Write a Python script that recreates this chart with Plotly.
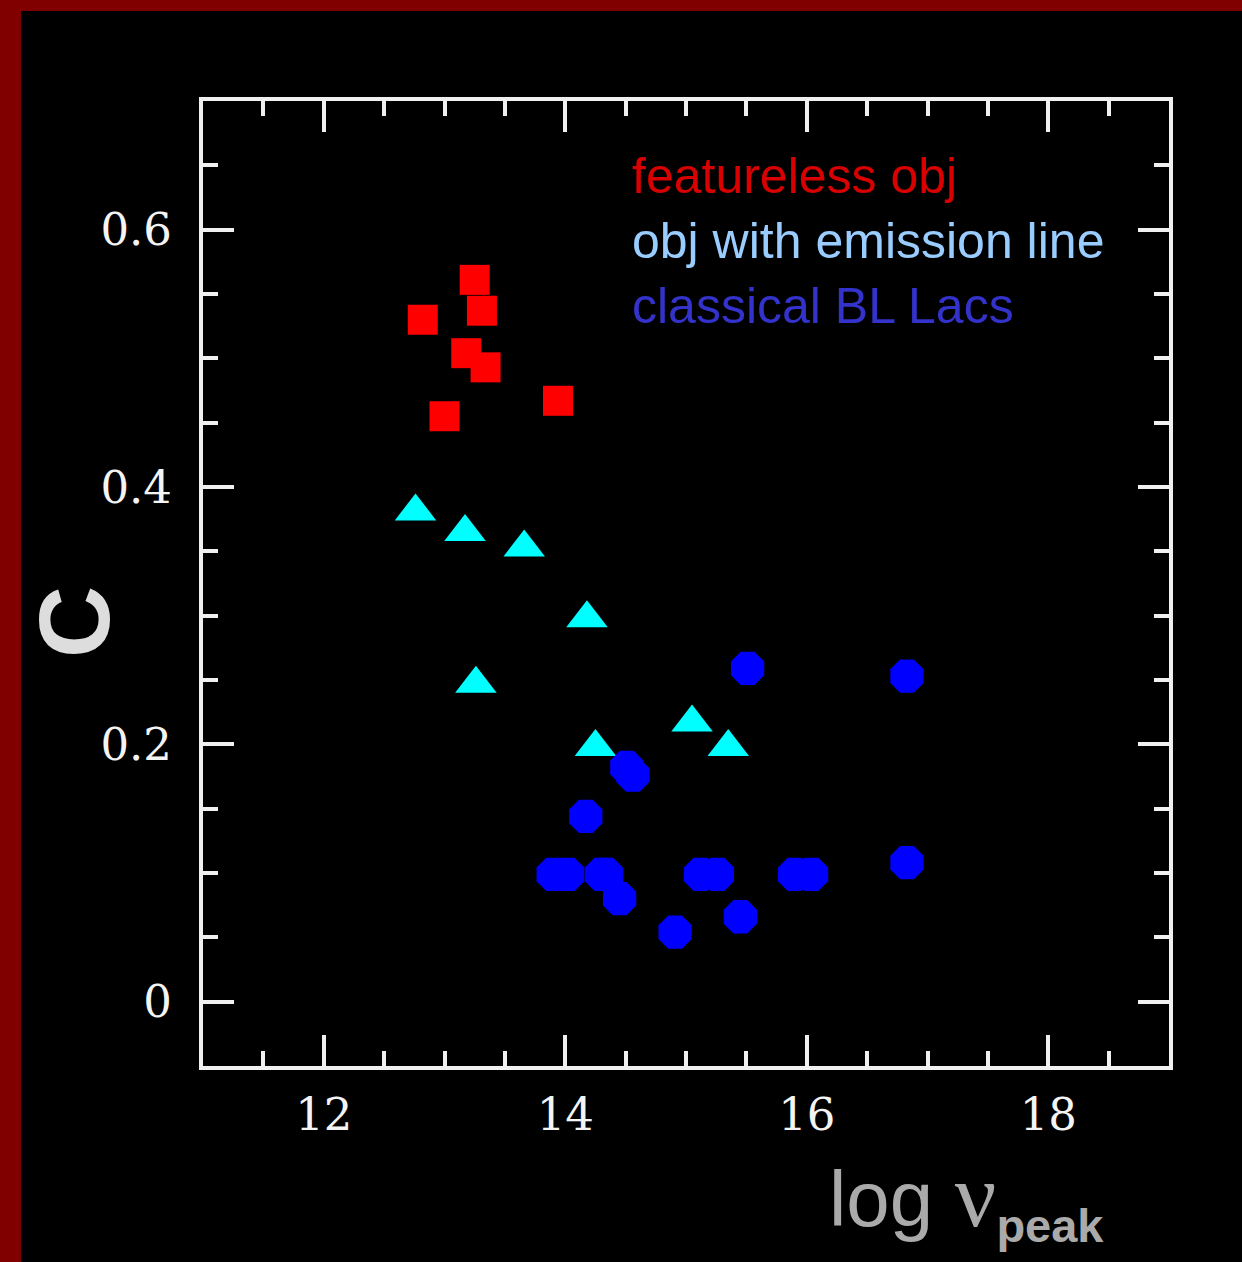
import plotly.graph_objects as go

# ---------------- data ----------------
series_names = ["featureless obj", "obj with emission line", "classical BL Lacs"]

feat_x = [12.82, 13.25, 13.31, 13.18, 13.34, 13.00, 13.94]
feat_y = [0.530, 0.561, 0.537, 0.504, 0.493, 0.455, 0.467]

emis_x = [12.76, 13.17, 13.66, 14.18, 13.26, 14.25, 15.05, 15.35]
emis_y = [0.381, 0.365, 0.353, 0.298, 0.247, 0.198, 0.217, 0.198]

bl_x = [15.51, 16.83, 14.51, 14.56, 14.17, 13.90, 14.02, 14.30, 14.34,
        14.45, 14.91, 15.12, 15.26, 15.45, 15.90, 16.04, 16.83]
bl_y = [0.259, 0.253, 0.182, 0.176, 0.144, 0.099, 0.099, 0.099, 0.099,
        0.080, 0.054, 0.099, 0.099, 0.066, 0.099, 0.099, 0.108]

x_range = [11, 19]
y_range = [-0.05, 0.7]
x_tick_vals = [12, 14, 16, 18]
x_tick_text = ["12", "14", "16", "18"]
y_tick_vals = [0, 0.2, 0.4, 0.6]
y_tick_text = ["0", "0.2", "0.4", "0.6"]

x_title = "log <span style='font-family:Liberation Serif;font-size:92px'>ν</span>" \
          "<sub><span style='font-size:47px'><b>peak</b></span></sub>"
y_title = "C"

# ---------------- figure ----------------
W, H = 1242, 1262
ML, MR, MT, MB = 203, 73, 101, 196
PW, PH = W - ML - MR, H - MT - MB


def px_to_paper_x(px):
    return (px - ML) / PW


def px_to_paper_y(py):
    return (H - MB - py) / PH


fig = go.Figure()

fig.add_trace(go.Scatter(
    x=feat_x, y=feat_y, mode="markers", name=series_names[0],
    marker=dict(symbol="square", size=30, color="#ff0000", line=dict(width=0)),
))
fig.add_trace(go.Scatter(
    x=emis_x, y=emis_y, mode="markers", name=series_names[1],
    marker=dict(symbol="triangle-up", size=36, color="#00ffff", line=dict(width=0)),
))
fig.add_trace(go.Scatter(
    x=bl_x, y=bl_y, mode="markers", name=series_names[2],
    marker=dict(symbol="octagon", size=36, color="#0000ff", line=dict(width=0)),
))

axis_common = dict(
    showgrid=False, zeroline=False,
    showline=True, linecolor="#f0f0f0", linewidth=4, mirror="allticks",
    ticks="inside", ticklen=31, tickwidth=4, tickcolor="#f0f0f0",
    tickfont=dict(family="DejaVu Serif", size=45, color="#f4f4f4"),
)

fig.update_xaxes(
    range=x_range, tickmode="array", tickvals=x_tick_vals, ticktext=x_tick_text,
    minor=dict(dtick=0.5, tick0=0, ticks="inside", ticklen=15, tickwidth=4,
               tickcolor="#f0f0f0"),
    ticklabelstandoff=6,
    **axis_common,
)
fig.update_yaxes(
    range=y_range, tickmode="array", tickvals=y_tick_vals, ticktext=y_tick_text,
    minor=dict(dtick=0.05, tick0=0, ticks="inside", ticklen=15, tickwidth=4,
               tickcolor="#f0f0f0"),
    ticklabelstandoff=18,
    **axis_common,
)

legend_colors = ["#d80000", "#99ccff", "#3333cc"]
legend_mid_px = [176, 241, 306]
annotations = []
for name, col, ypx in zip(series_names, legend_colors, legend_mid_px):
    annotations.append(dict(
        x=px_to_paper_x(630), y=px_to_paper_y(ypx), xref="paper", yref="paper",
        xanchor="left", yanchor="middle", showarrow=False, text=name,
        font=dict(family="Liberation Sans", size=50, color=col),
    ))

# axis titles
annotations.append(dict(
    x=px_to_paper_x(74), y=px_to_paper_y(622), xref="paper", yref="paper",
    xanchor="center", yanchor="middle", showarrow=False, textangle=-90,
    text="<b>" + y_title + "</b>",
    font=dict(family="Liberation Sans", size=100, color="#dddddd"),
))
annotations.append(dict(
    x=px_to_paper_x(966), y=px_to_paper_y(1198), xref="paper", yref="paper",
    xanchor="center", yanchor="middle", showarrow=False,
    text=x_title,
    font=dict(family="Liberation Sans", size=78, color="#aaaaaa"),
))

shapes = [
    dict(type="rect", xref="paper", yref="paper", layer="below",
         x0=px_to_paper_x(-5), x1=px_to_paper_x(W + 5),
         y0=px_to_paper_y(11), y1=px_to_paper_y(-5),
         fillcolor="#800000", line=dict(width=0)),
    dict(type="rect", xref="paper", yref="paper", layer="below",
         x0=px_to_paper_x(-5), x1=px_to_paper_x(21),
         y0=px_to_paper_y(H + 5), y1=px_to_paper_y(-5),
         fillcolor="#800000", line=dict(width=0)),
]

fig.update_layout(
    width=W, height=H,
    margin=dict(l=ML, r=MR, t=MT, b=MB, pad=0),
    paper_bgcolor="#000000", plot_bgcolor="#000000",
    showlegend=False,
    annotations=annotations,
    shapes=shapes,
)

fig.write_html("out.html", config={"displayModeBar": False},
               post_script="document.body.style.margin='0';")
